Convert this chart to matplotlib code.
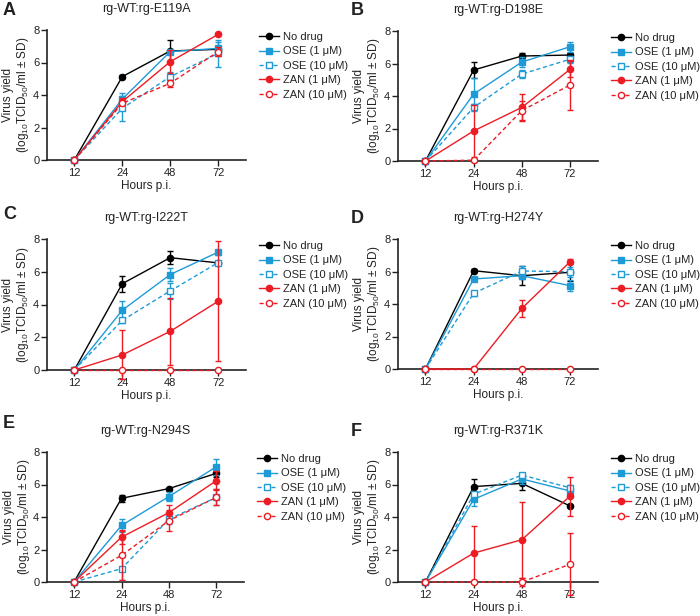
import matplotlib
matplotlib.use("Agg")
import matplotlib.pyplot as plt
from matplotlib.lines import Line2D
import numpy as np

plt.rcParams['font.family'] = ['Liberation Sans', 'DejaVu Sans']
plt.rcParams['mathtext.fontset'] = 'custom'
plt.rcParams['mathtext.rm'] = 'Liberation Sans'
plt.rcParams['mathtext.it'] = 'Liberation Sans:italic'
plt.rcParams['mathtext.bf'] = 'Liberation Sans:bold'

hours = ["12", "24", "48", "72"]
series = ["No drug", "OSE (1 \u03bcM)", "OSE (10 \u03bcM)", "ZAN (1 \u03bcM)", "ZAN (10 \u03bcM)"]
panel_letters = ["A", "B", "C", "D", "E", "F"]
titles = ["rg-WT:rg-E119A", "rg-WT:rg-D198E", "rg-WT:rg-I222T",
          "rg-WT:rg-H274Y", "rg-WT:rg-N294S", "rg-WT:rg-R371K"]

# mean values per series (No drug, OSE1, OSE10, ZAN1, ZAN10)
mean_A = [[0, 5.13, 6.71, 6.81], [0, 3.75, 6.67, 6.87], [0, 3.18, 5.13, 6.56],
          [0, 3.59, 6.05, 7.73], [0, 3.49, 4.72, 6.67]]
sd_A = [[0, 0.1, 0.67, 0.1], [0, 0.4, 0.1, 0.4], [0, 0.78, 0.3, 0.82],
        [0, 0.2, 0.7, 0.05], [0, 0.1, 0.2, 0.3]]

mean_B = [[0, 5.6, 6.46, 6.52], [0, 4.12, 6.09, 7.03], [0, 3.3, 5.35, 6.26],
          [0, 1.85, 3.3, 5.64], [0, 0.05, 3.1, 4.68]]
sd_B = [[0, 0.5, 0.2, 0.1], [0, 1.0, 0.3, 0.3], [0, 0.2, 0.25, 0.2],
        [0, 1.6, 0.85, 0.5], [0, 0.1, 0.6, 1.55]]

mean_C = [[0, 5.27, 6.86, 6.54], [0, 3.65, 5.83, 7.2], [0, 3.03, 4.83, 6.56],
          [0, 0.92, 2.36, 4.2], [0, 0, 0, 0]]
sd_C = [[0, 0.5, 0.4, 0.05], [0, 0.55, 0.4, 0.15], [0, 0.15, 0.5, 0.1],
        [0, 1.5, 2.05, 3.65], [0, 0, 0, 0]]

mean_D = [[0, 6.05, 5.74, 5.95], [0, 5.54, 5.74, 5.13], [0, 4.66, 6.03, 5.99],
          [0, 0, 3.73, 6.6], [0, 0, 0, 0]]
sd_D = [[0, 0.1, 0.6, 0.55], [0, 0.1, 0.2, 0.35], [0, 0.15, 0.3, 0.3],
        [0, 0, 0.5, 0.15], [0, 0, 0, 0]]

mean_E = [[0, 5.15, 5.75, 6.69], [0, 3.48, 5.26, 7.1], [0, 0.82, 3.87, 5.21],
          [0, 2.76, 4.27, 6.24], [0, 1.64, 3.78, 5.21]]
sd_E = [[0, 0.2, 0.05, 0.2], [0, 0.4, 0.3, 0.5], [0, 0.7, 0.3, 0.5],
        [0, 0.45, 0.45, 0.6], [0, 1.5, 0.65, 0.5]]

mean_F = [[0, 5.87, 6.07, 4.68], [0, 5.09, 6.34, 5.6], [0, 5.4, 6.58, 5.8],
          [0, 1.78, 2.6, 5.29], [0, 0, 0, 1.09]]
sd_F = [[0, 0.45, 0.4, 0.05], [0, 0.4, 0.3, 0.2], [0, 0.15, 0.15, 0.2],
        [0, 1.65, 2.33, 1.2], [0, 0, 0.25, 1.9]]

means = [mean_A, mean_B, mean_C, mean_D, mean_E, mean_F]
sds = [sd_A, sd_B, sd_C, sd_D, sd_E, sd_F]

BLACK = "#000000"
BLUE = "#1E9BD7"
RED = "#ED1C24"
TXT = "#222222"
colors = [BLACK, BLUE, BLUE, RED, RED]
markers = ["o", "s", "s", "o", "o"]
filled = [True, True, False, True, False]
dashed = [False, False, True, False, True]

W, H = 700, 616
fig = plt.figure(figsize=(7.0, 6.16), dpi=100)

# axes rectangles in pixels (left, top, right, bottom)
rects = [(47, 30, 246, 160), (398, 31, 598, 161),
         (47, 239, 246, 370), (398, 239, 598, 369),
         (47, 452, 244, 582), (398, 452, 598, 582)]
letter_pos = [(3, 2), (351, 2), (3, 206), (351, 210), (3, 415), (351, 423)]

x = np.arange(len(hours))
for i in range(6):
    l, t, r, b = rects[i]
    ax = fig.add_axes([l / W, 1 - b / H, (r - l) / W, (b - t) / H])
    handles = []
    for j in range(5):
        ls = (0, (3, 2)) if dashed[j] else '-'
        mfc = colors[j] if filled[j] else 'white'
        ax.errorbar(x, means[i][j], yerr=sds[i][j], color=colors[j],
                    linestyle=ls, linewidth=1.0, marker=markers[j],
                    markersize=4.5, markerfacecolor=mfc,
                    markeredgecolor=colors[j], markeredgewidth=1.0,
                    ecolor=colors[j], elinewidth=1.0, capsize=2.5,
                    capthick=1.0, clip_on=False, zorder=3 + j)
        handles.append(Line2D([], [], color=colors[j], linestyle=ls,
                              linewidth=1.0, marker=markers[j],
                              markersize=4.5, markerfacecolor=mfc,
                              markeredgecolor=colors[j],
                              markeredgewidth=1.0, label=series[j]))
    ax.set_xlim(-0.57, 3.58)
    ax.set_ylim(0, 8)
    ax.set_yticks([0, 2, 4, 6, 8])
    ax.set_xticks(x)
    ax.set_xticklabels(hours)
    for s in ['top', 'right']:
        ax.spines[s].set_visible(False)
    for s in ['left', 'bottom']:
        ax.spines[s].set_linewidth(1.2)
        ax.spines[s].set_color(TXT)
    ax.tick_params(axis='both', labelsize=8, length=4, width=1.0,
                   color=TXT, labelcolor=TXT, pad=1.5)
    ax.set_xlabel("Hours p.i.", fontsize=8.5, color=TXT, labelpad=2)
    ax.set_ylabel("Virus yield\n(log$_{10}$TCID$_{50}$/ml \u00b1 SD)",
                  fontsize=8.5, color=TXT, linespacing=1.1)
    ax.yaxis.set_label_coords(-0.078, 0.5)
    ax.set_title(titles[i], fontsize=9, color=TXT, pad=13)
    leg = ax.legend(handles=handles, loc='upper left',
                    bbox_to_anchor=(1 + 13 / 200, 0.985),
                    frameon=False, fontsize=8, handlelength=1.8,
                    handletextpad=0.4, labelspacing=0.4, borderpad=0,
                    borderaxespad=0)
    for txt in leg.get_texts():
        txt.set_color(TXT)
    lx, ly = letter_pos[i]
    fig.text(lx / W, 1 - ly / H, panel_letters[i], fontsize=13,
             fontweight='bold', ha='left', va='top', color=TXT)

fig.savefig("out.png", dpi=100)
